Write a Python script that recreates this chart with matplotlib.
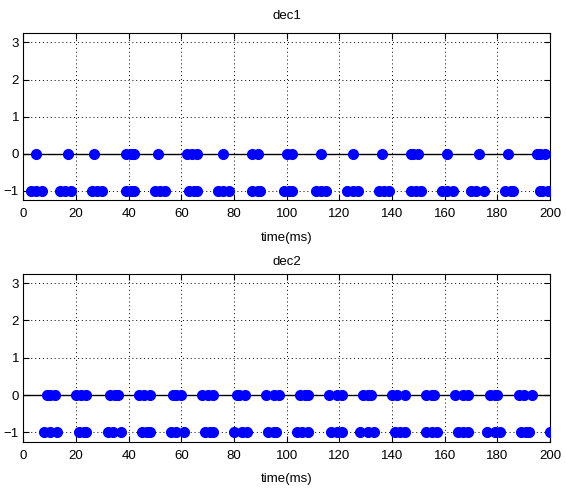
import matplotlib
matplotlib.use("Agg")
import matplotlib.pyplot as plt

plt.rcParams["font.family"] = ["Liberation Sans", "DejaVu Sans"]
plt.rcParams["font.size"] = 9.5

# event times (ms) for each level
dec1_zero = [5, 17, 27, 39, 41, 42, 51, 62, 64, 66, 76, 87, 89, 100, 102,
             113, 125, 136, 147, 148, 150, 161, 173, 184, 195, 196, 198]
dec1_minus = [3, 5, 7, 14, 16, 18, 26, 28, 30, 39, 41, 42, 50, 52, 54,
              63, 65, 66, 74, 76, 78, 87, 89, 90, 99, 101, 102, 111, 113, 115,
              123, 125, 127, 135, 137, 139, 147, 149, 151, 159, 161, 163,
              170, 172, 175, 183, 185, 186, 196, 197, 199]
dec2_zero = [9, 10, 12, 20, 22, 24, 33, 35, 36, 44, 46, 48, 57, 58, 60,
             68, 70, 72, 81, 82, 84, 92, 95, 97, 105, 107, 108, 116, 119, 121,
             129, 131, 132, 140, 142, 145, 153, 155, 156, 164, 167, 169,
             177, 179, 180, 188, 190, 193]
dec2_minus = [8, 10, 13, 21, 23, 24, 32, 34, 37, 45, 47, 48, 56, 58, 61,
              69, 71, 72, 80, 83, 85, 93, 95, 96, 104, 106, 108, 117, 119, 121,
              128, 131, 133, 141, 143, 145, 153, 155, 157, 165, 167, 169,
              176, 179, 181, 189, 191, 192, 200]

panels = [
    ("dec1", dec1_zero, dec1_minus),
    ("dec2", dec2_zero, dec2_minus),
]

fig = plt.figure(figsize=(5.66, 4.88), dpi=100)
fig.patch.set_facecolor("white")
positions = [[0.041, 0.590, 0.931, 0.342], [0.041, 0.095, 0.931, 0.344]]
title_pads = [10, 6]

for pos, tpad, (name, zero_t, minus_t) in zip(positions, title_pads, panels):
    ax = fig.add_axes(pos)
    ax.axhline(0, color="black", lw=1.0, zorder=1)
    ax.plot(zero_t, [0] * len(zero_t), "o", color="blue", ms=7, mec="blue", zorder=3)
    ax.plot(minus_t, [-1] * len(minus_t), "o", color="blue", ms=7, mec="blue", zorder=3)
    ax.set_xlim(0, 200)
    ax.set_ylim(-1.25, 3.25)
    ax.set_xticks(range(0, 201, 20))
    ax.set_yticks([-1, 0, 1, 2, 3])
    ax.grid(True, color="black", linestyle=(0, (1, 3)), lw=0.7)
    ax.tick_params(direction="in", length=4, top=True, right=True,
                   labeltop=False, labelright=False, pad=3)
    ax.tick_params(axis="x", pad=6)
    for s in ax.spines.values():
        s.set_color("black")
        s.set_linewidth(0.8)
    ax.set_title(name, fontsize=9.5, pad=tpad)
    ax.set_xlabel("time(ms)", labelpad=8)

fig.savefig("out.png", dpi=100)
